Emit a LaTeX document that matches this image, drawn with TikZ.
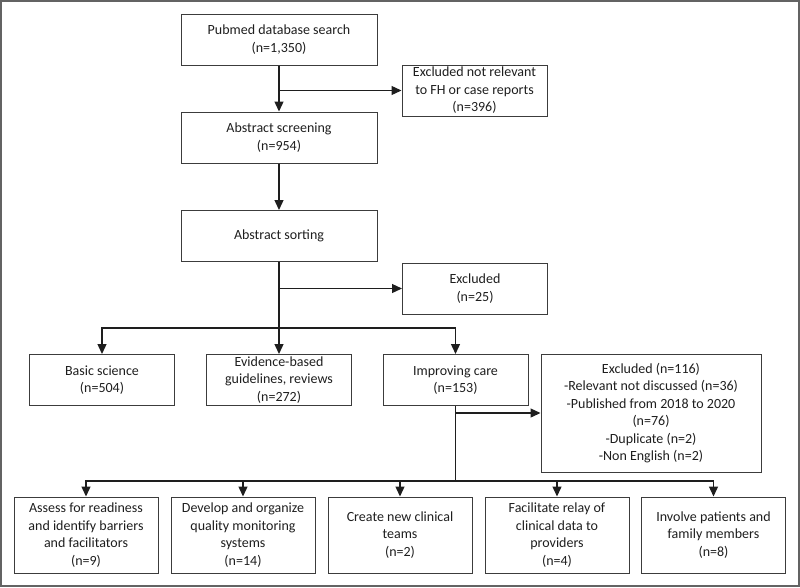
\documentclass[tikz,border=0pt]{standalone}
\usepackage{fontspec}
\setmainfont{Carlito}
\usetikzlibrary{arrows.meta}
\definecolor{ink}{HTML}{1E1E1E}
\definecolor{edge}{HTML}{3C3C3C}

\begin{document}
\begin{tikzpicture}[x=1pt,y=-1pt,line width=1.3pt,draw=ink,-{Triangle[length=10pt,width=9pt]},
	box/.style={draw=edge,line width=1pt,inner sep=0pt,align=center,text=ink,font=\fontsize{14}{17.5}\selectfont,-},
	wide/.style={box,minimum width=196pt,minimum height=51pt},
	small/.style={box,minimum width=145pt,minimum height=51pt},
	leaf/.style={box,minimum width=144pt,minimum height=76pt}]
	\useasboundingbox (0,0) rectangle (800,587);
	\draw[-,draw=edge!80,line width=1.5pt] (1,1) rectangle (799,586);
	\node[wide] (P) at (279,39.5) {Pubmed database search\\(n=1,350)};
	\node[small] (E1) at (474.5,90.5) {Excluded not relevant\\to FH or case reports\\(n=396)};
	\node[wide] (S) at (279,137.5) {Abstract screening\\(n=954)};
	\node[wide] (T) at (279,236) {Abstract sorting};
	\node[small] (E2) at (475,288.5) {Excluded\\(n=25)};
	\node[small] (B1) at (102,380) {Basic science\\(n=504)};
	\node[small] (B2) at (279,380) {Evidence-based\\guidelines, reviews\\(n=272)};
	\node[small] (B3) at (455.5,380) {Improving care\\(n=153)};
	\node[box,minimum width=220pt,minimum height=118pt] (E3) at (651,413) {Excluded (n=116)\\-Relevant not discussed (n=36)\\-Published from 2018 to 2020\\(n=76)\\-Duplicate (n=2)\\-Non English (n=2)};
	\node[leaf] (C1) at (86,535) {Assess for readiness\\and identify barriers\\and facilitators\\(n=9)};
	\node[leaf] (C2) at (243,535) {Develop and organize\\quality monitoring\\systems\\(n=14)};
	\node[leaf] (C3) at (400,535) {Create new clinical\\teams\\(n=2)};
	\node[leaf] (C4) at (557,535) {Facilitate relay of\\clinical data to\\providers\\(n=4)};
	\node[leaf] (C5) at (713.5,535) {Involve patients and\\family members\\(n=8)};
	\coordinate (bus) at (279,328);
	\coordinate (bus2) at (455.5,481);
	\draw (P) -- (S);
	\draw (P |- E1) -- (E1);
	\draw (S) -- (T);
	\draw (T) -- (B2);
	\draw (T |- E2) -- (E2);
	\draw (bus) -| (B1);
	\draw (bus) -| (B3);
	\draw[-] (B3) -- (bus2);
	\draw (B3 |- E3) -- (E3);
	\foreach \c in {C1,C2,C3,C4,C5}
		\draw (bus2) -| (\c);
\end{tikzpicture}
\end{document}
